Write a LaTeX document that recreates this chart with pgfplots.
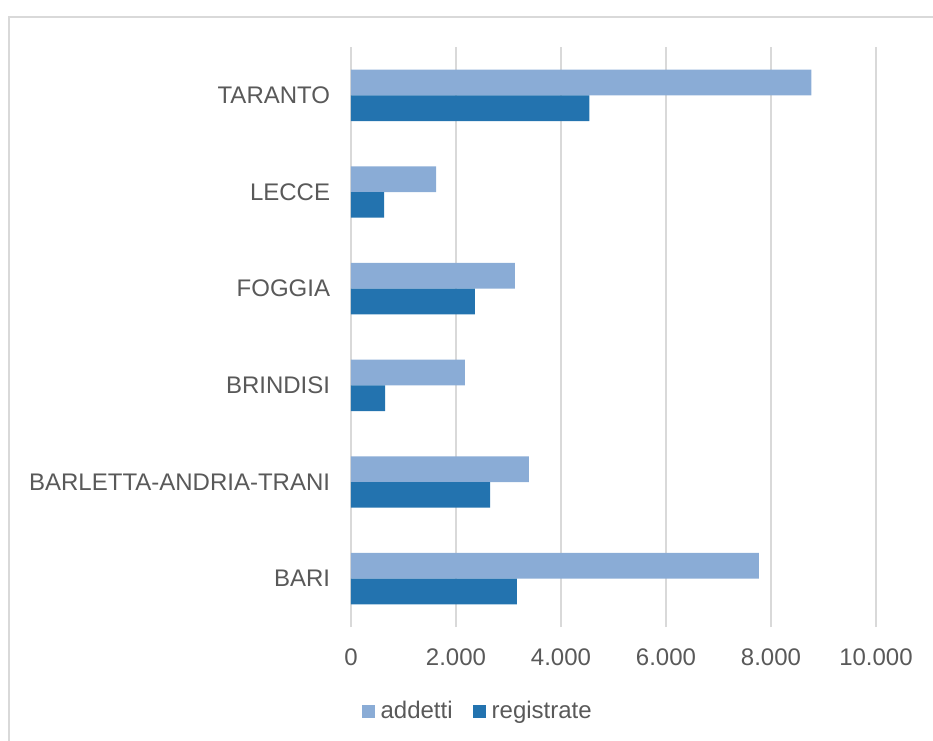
\documentclass[border=0pt]{standalone}
\usepackage{pgfplots}
\pgfplotsset{compat=1.18}
\usepackage{fontspec}
\setmainfont{Liberation Sans}
\definecolor{txt}{HTML}{595959}
\definecolor{gridc}{HTML}{D9D9D9}
\definecolor{cA}{HTML}{8AACD6}
\definecolor{cR}{HTML}{2373AF}
\newcommand\PX[2]{({(#1-351)*0.75pt},{(627-#2)*0.75pt})}
\begin{document}
\begin{tikzpicture}
\useasboundingbox \PX{0}{0} rectangle \PX{933}{740};
\draw[gridc, line width=1.2pt] \PX{960}{17} -- \PX{9}{17} -- \PX{9}{760};
\begin{axis}[
  xbar,
  scale only axis,
  width=393.75pt, height=435pt,
  xmin=0, xmax=10000, ymin=-0.5, ymax=5.5,
  xtick={0,2000,4000,6000,8000,10000},
  ytick={0,1,2,3,4,5},
  yticklabels={BARI,BARLETTA-ANDRIA-TRANI,BRINDISI,FOGGIA,LECCE,TARANTO},
  xmajorgrids,
  major grid style={gridc, line width=0.9pt},
  axis line style={draw=none},
  tick style={draw=none},
  major tick length=0pt,
  ticklabel style={font=\fontsize{18}{21}\selectfont, text=txt},
  xticklabel style={anchor=north, inner sep=0pt, yshift=-16pt},
  yticklabel style={anchor=east, inner sep=0pt, xshift=-15.5pt},
  /pgf/number format/assume math mode=true,
  /pgf/number format/1000 sep={.},
  scaled x ticks=false,
  bar width=0.266,
  legend columns=2,
  legend style={at={(axis description cs:0.021,-0.145)}, anchor=west, draw=none, fill=none,
    inner sep=0pt, font=\fontsize{18}{21}\selectfont, text=txt,
    nodes={inner sep=2.5pt},
    /tikz/every odd column/.append style={column sep=1.5pt},
    /tikz/every even column/.append style={column sep=13pt}},
  legend image code/.code={\fill[#1] (0pt,-4.9pt) rectangle (9.75pt,4.9pt);},
]
\addplot+[fill=cA, draw=none, bar shift=0.133] coordinates {(7770,0) (3390,1) (2170,2) (3120,3) (1620,4) (8770,5)};
\addplot+[fill=cR, draw=none, bar shift=-0.133] coordinates {(3160,0) (2650,1) (650,2) (2360,3) (630,4) (4540,5)};
\legend{addetti,registrate}
\end{axis}
\end{tikzpicture}
\end{document}
